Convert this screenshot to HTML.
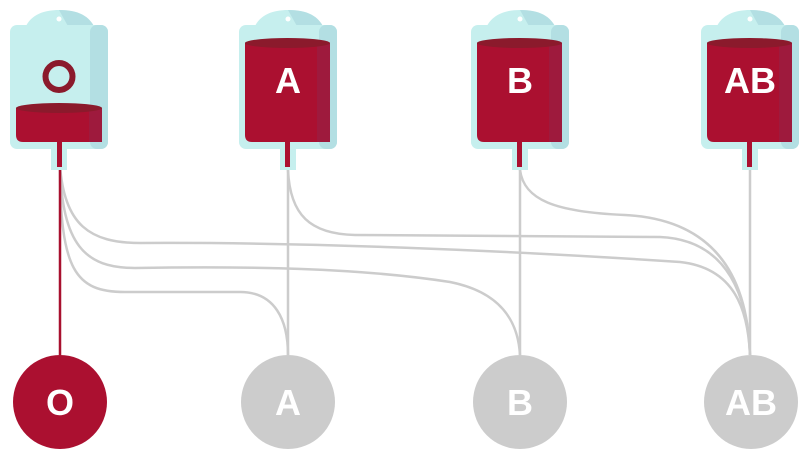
<!DOCTYPE html>
<html><head><meta charset="utf-8"><style>
html,body{margin:0;padding:0;background:#fff;width:809px;height:458px;overflow:hidden}
text{font-family:"Liberation Sans",sans-serif;font-weight:bold}
</style></head><body>
<svg width="809" height="458" viewBox="0 0 809 458" xmlns="http://www.w3.org/2000/svg">
<defs>
<g id="bag">
  <rect x="-8" y="146" width="16" height="24" fill="#c6efee"/>
  <path d="M-34,28 C-28,14 -14,10 0,10 C14,10 28,14 34,28 Z" fill="#c6efee"/>
  <path d="M0,10 C20,10 30,16 36,28 L10,28 Z" fill="#b3dfe3"/>
  <rect x="-49" y="25" width="98" height="124" rx="7" fill="#c6efee"/>
  <rect x="31" y="25" width="18" height="124" rx="7" fill="#b3dfe3"/>
  <circle cx="0" cy="19" r="2.5" fill="#fff"/>
</g>
</defs>
<g fill="none" stroke="#cccccc" stroke-width="2.5">
  <path d="M60,165 C60,270 75,292 125,292 L240,292 C275,292 288,320 288,355"/>
  <path d="M60,165 C62,245 85,268 135,268 C250,266 360,268 450,282 C500,292 518,320 520,355"/>
  <path d="M60,165 C64,225 90,243 140,243 C300,242 500,250 680,262 C735,268 748,310 750,355"/>
  <path d="M288,170 C290,215 310,234 355,235 L660,237 C730,240 748,300 750,355"/>
  <path d="M520,170 C524,200 555,212 625,215 C725,220 748,290 750,355"/>
  <path d="M288,170 L288,355"/>
  <path d="M520,170 L520,355"/>
  <path d="M750,170 L750,355"/>
</g>
<path d="M60,140 L60,355" stroke="#a8102e" stroke-width="2.5"/>
<use href="#bag" x="59" y="0"/>
<path d="M16,108 L102,108 L102,135 Q102,142 95,142 L23,142 Q16,142 16,135 Z" fill="#ab1030"/>
<rect x="89" y="108" width="13" height="34" fill="#9e1a3d"/>
<ellipse cx="59" cy="108" rx="43" ry="5" fill="#8b1a2c"/>
<rect x="57" y="142" width="5" height="25" fill="#ab1030"/>
<circle cx="59" cy="76.5" r="13.5" fill="none" stroke="#8b1a2c" stroke-width="6"/>
<g>
<use href="#bag" x="288" y="0"/>
<path d="M245,43 L330,43 L330,135 Q330,142 323,142 L252,142 Q245,142 245,135 Z" fill="#ab1030"/>
<rect x="317" y="43" width="13" height="99" fill="#9e1a3d"/>
<ellipse cx="287.5" cy="43" rx="42.5" ry="5" fill="#8b1a2c"/>
<rect x="285" y="142" width="5" height="25" fill="#ab1030"/>
<text x="288" y="93" fill="#fff" font-size="36" text-anchor="middle">A</text>
</g>
<g>
<use href="#bag" x="520" y="0"/>
<path d="M477,43 L562,43 L562,135 Q562,142 555,142 L484,142 Q477,142 477,135 Z" fill="#ab1030"/>
<rect x="549" y="43" width="13" height="99" fill="#9e1a3d"/>
<ellipse cx="519.5" cy="43" rx="42.5" ry="5" fill="#8b1a2c"/>
<rect x="517" y="142" width="5" height="25" fill="#ab1030"/>
<text x="520" y="93" fill="#fff" font-size="36" text-anchor="middle">B</text>
</g>
<g>
<use href="#bag" x="750" y="0"/>
<path d="M707,43 L792,43 L792,135 Q792,142 785,142 L714,142 Q707,142 707,135 Z" fill="#ab1030"/>
<rect x="779" y="43" width="13" height="99" fill="#9e1a3d"/>
<ellipse cx="749.5" cy="43" rx="42.5" ry="5" fill="#8b1a2c"/>
<rect x="747" y="142" width="5" height="25" fill="#ab1030"/>
<text x="750" y="93" fill="#fff" font-size="36" text-anchor="middle">AB</text>
</g>
<circle cx="60" cy="402" r="47" fill="#ab1030"/>
<circle cx="288" cy="402" r="47" fill="#cccccc"/>
<circle cx="520" cy="402" r="47" fill="#cccccc"/>
<circle cx="751" cy="402" r="47" fill="#cccccc"/>
<text x="60" y="415" fill="#fff" font-size="36" text-anchor="middle">O</text>
<text x="288" y="415" fill="#fff" font-size="36" text-anchor="middle">A</text>
<text x="520" y="415" fill="#fff" font-size="36" text-anchor="middle">B</text>
<text x="751" y="415" fill="#fff" font-size="36" text-anchor="middle">AB</text>
</svg>
</body></html>
